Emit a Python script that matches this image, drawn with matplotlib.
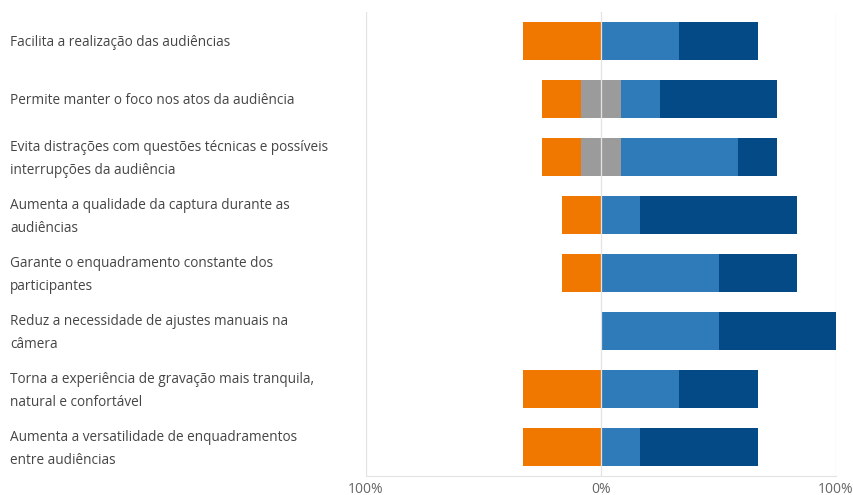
import matplotlib.pyplot as plt

labels = [
    "Facilita a realização das audiências",
    "Permite manter o foco nos atos da audiência",
    "Evita distrações com questões técnicas e possíveis\ninterrupções da audiência",
    "Aumenta a qualidade da captura durante as\naudiências",
    "Garante o enquadramento constante dos\nparticipantes",
    "Reduz a necessidade de ajustes manuais na\ncâmera",
    "Torna a experiência de gravação mais tranquila,\nnatural e confortável",
    "Aumenta a versatilidade de enquadramentos\nentre audiências",
]
disagree = [33.3, 16.7, 16.7, 16.7, 16.7, 0, 33.3, 33.3]
neutral = [0, 16.7, 16.7, 0, 0, 0, 0, 0]
agree = [33.3, 16.7, 50.0, 16.7, 50.0, 50.0, 33.3, 16.7]
strongly_agree = [33.3, 50.0, 16.7, 66.7, 33.3, 50.0, 33.3, 50.0]
tick_values = [-100, 0, 100]
tick_labels = ["100%", "0%", "100%"]

c_orange = "#F07800"
c_gray = "#9B9B9B"
c_light = "#2F7BBA"
c_dark = "#034A87"

plt.rcParams["font.family"] = ["Open Sans", "DejaVu Sans"]

fig = plt.figure(figsize=(8.54, 4.95), dpi=100)
ax = fig.add_axes([0.4286, 0.0384, 0.5504, 0.9374])

y = list(range(len(labels)))
h = 0.655
half_n = [n / 2 for n in neutral]

# left side: disagree beyond the neutral half
ax.barh(y, [-d for d in disagree], left=[-n for n in half_n], height=h, color=c_orange, zorder=2)
ax.barh(y, [-n for n in half_n], height=h, color=c_gray, zorder=2)
# right side
ax.barh(y, half_n, height=h, color=c_gray, zorder=2)
ax.barh(y, agree, left=half_n, height=h, color=c_light, zorder=2)
ax.barh(y, strongly_agree, left=[a + n for a, n in zip(agree, half_n)], height=h,
        color=c_dark, zorder=2)

ax.axvline(0, color="#E3E3E3", lw=0.9, zorder=3)
ax.axvline(-100, color="#E3E3E3", lw=0.9, zorder=1)
ax.axvline(100, color="#E3E3E3", lw=0.9, zorder=1)

ax.set_xlim(-100, 100)
ax.set_ylim(len(labels) - 0.5, -0.5)
for s in ["top", "left", "right"]:
    ax.spines[s].set_visible(False)
ax.spines["bottom"].set_color("#E3E3E3")

ax.set_xticks(tick_values)
ax.set_xticklabels(tick_labels, color="#666666", fontsize=10)
ax.tick_params(axis="x", length=0, pad=4)
ax.set_yticks([])

for yi, lab in zip(y, labels):
    _, fy = fig.transFigure.inverted().transform(ax.transData.transform((0, yi)))
    fig.text(10 / 854, fy - 2 / 495, lab, fontsize=9.8, color="#454545", ha="left",
             va="center", linespacing=1.65)

fig.savefig("out.png", dpi=100)
